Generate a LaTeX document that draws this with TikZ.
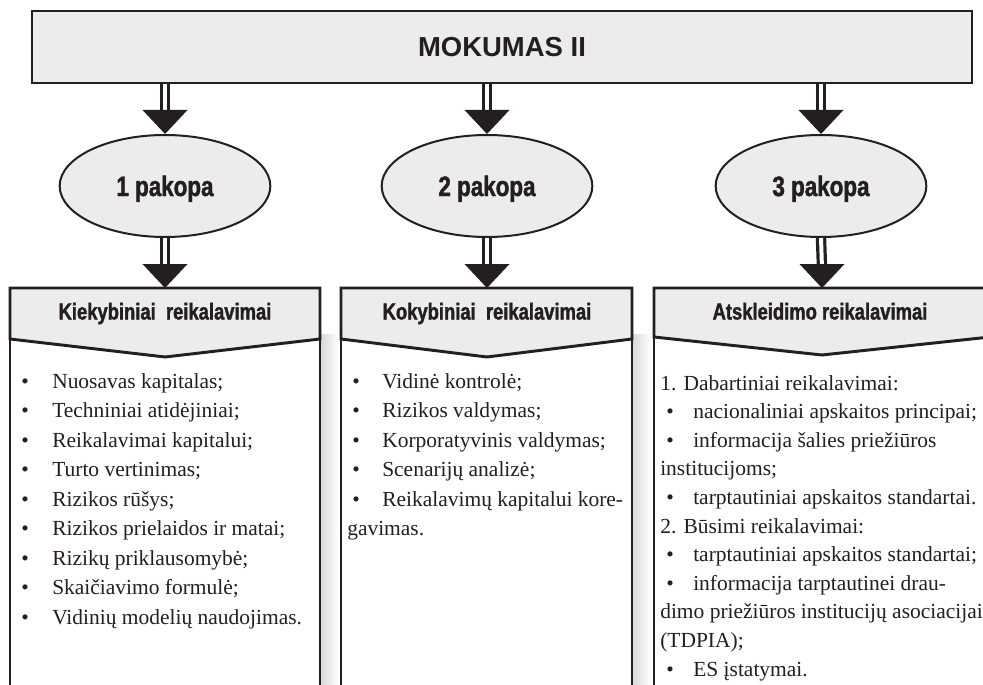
\documentclass[tikz,border=0pt]{standalone}
\usepackage{fontspec}
\setmainfont{Liberation Serif}
\newfontfamily\headsans{Liberation Sans}
\newfontfamily\condsans{Liberation Sans}[FakeStretch=0.8, BoldFeatures={FakeBold=1.5}]
\usetikzlibrary{shapes.geometric,calc}
\definecolor{ink}{HTML}{231F20}
\definecolor{panel}{HTML}{ECECEC}

% double-shafted arrow with a solid triangular head ending at #2
\newcommand\stagearrow[2]{%
  \draw[shaft] (#1) -- ($(#2)+(0,-20)$);
  \fill[ink] (#2) -- ++(-22.5,-24) -- ++(45,0) -- cycle;
}

\begin{document}
\begin{tikzpicture}[x=0.75pt, y=-0.75pt,
  every node/.style={text=ink},
  titlebox/.style={fill=panel, draw=ink, line width=2pt, minimum width=705pt,
    minimum height=54pt, inner sep=0pt, text height=14.8pt, text depth=0pt,
    font=\headsans\bfseries\fontsize{20.6}{24}\selectfont},
  stage/.style={ellipse, fill=panel, draw=ink, line width=1.5pt,
    minimum width=158pt, minimum height=76.5pt, inner sep=0pt,
    text height=15pt, text depth=0pt,
    font=\condsans\bfseries\fontsize{21}{24}\selectfont},
  hdrshape/.style={fill=panel, draw=ink, line width=2.2pt, line join=miter},
  hdrtext/.style={anchor=base, inner sep=0pt,
    font=\condsans\bfseries\fontsize{17.25}{20}\selectfont},
  bodyshape/.style={fill=white, draw=ink, line width=2.2pt},
  item/.style={anchor=base west, inner sep=0pt,
    font=\fontsize{16.1}{19}\selectfont},
  shaft/.style={draw=ink, double=white, double distance=3pt, line width=2.4pt},
]
\useasboundingbox (0,0) rectangle (983,685);
\clip (0,0) rectangle (983,685);

% ---- title and stages -------------------------------------------------
\node[titlebox] (title) at (502,47) {MOKUMAS II};

\node[stage] (e1) at (165,186) {1 pakopa};
\node[stage] (e2) at (487,186) {2 pakopa};
\node[stage] (e3) at (821,186) {3 pakopa};

\foreach \e in {e1,e2,e3}
  \stagearrow{title.south -| \e.north}{\e.north};

% ---- column bodies with soft shadow -------------------------------------
\shade[left color=black!15, right color=white] (321,334) rectangle (338,700);
\shade[left color=black!15, right color=white] (633,334) rectangle (651,700);

\path[bodyshape] (10,700) -- (10,336) -- (320,336) -- (320,700);
\path[bodyshape] (341,700) -- (341,336) -- (632,336) -- (632,700);
\path[bodyshape] (654,700) -- (654,336) -- (990,336) -- (990,700);

% ---- column headers ---------------------------------------------------
\path[hdrshape] (10,288) -- (320,288) -- (320,339) -- (165,357) -- (10,339) -- cycle;
\path[hdrshape] (341,288) -- (632,288) -- (632,339) -- (487,357) -- (341,339) -- cycle;
\path[hdrshape] (654,288) -- (990,288) -- (990,337) -- (822,355) -- (654,337) -- cycle;

\coordinate (h1top) at (165,288);
\coordinate (h2top) at (487,288);
\coordinate (h3top) at (822,288);

\node[hdrtext] (h1) at (165,319.5) {Kiekybiniai\ \ reikalavimai};
\node[hdrtext] (h2) at (487,319.5) {Kokybiniai\ \ reikalavimai};
\node[hdrtext] (h3) at (820,319.5) {Atskleidimo reikalavimai};

\stagearrow{e1.south}{h1top}
\stagearrow{e2.south}{h2top}
\stagearrow{e3.south}{h3top}

% ---- column 1: quantitative requirements --------------------------------
\foreach \txt [count=\i] in {{Nuosavas kapitalas;},{Techniniai atidėjiniai;},
    {Reikalavimai kapitalui;},{Turto vertinimas;},{Rizikos rūšys;},
    {Rizikos prielaidos ir matai;},{Rizikų priklausomybė;},
    {Skaičiavimo formulė;},{Vidinių modelių naudojimas.}} {
  \node[item] (kb\i) at (21,{388+29.5*(\i-1)}) {\textbullet};
  \node[item] (k\i) at (52,{388+29.5*(\i-1)}) {\txt};
}

% ---- column 2: qualitative requirements ---------------------------------
\foreach \txt [count=\i] in {{Vidinė kontrolė;},{Rizikos valdymas;},
    {Korporatyvinis valdymas;},{Scenarijų analizė;},
    {Reikalavimų kapitalui kore-}} {
  \node[item] (qb\i) at (352,{388+29.5*(\i-1)}) {\textbullet};
  \node[item] (q\i) at (382,{388+29.5*(\i-1)}) {\txt};
}
\node[item] (q6) at (347,{388+29.5*5}) {gavimas.};

% ---- column 3: disclosure requirements ----------------------------------
\foreach \i in {2,3,5,7,8,11}
  \node[item] (ab\i) at (666,{390+28.6*(\i-1)}) {\textbullet};
\foreach \xx/\txt [count=\i] in {660/{1. Dabartiniai reikalavimai:},
    693/{nacionaliniai apskaitos principai;},
    693/{informacija šalies priežiūros},
    660/{institucijoms;},
    693/{tarptautiniai apskaitos standartai.},
    660/{2. Būsimi reikalavimai:},
    693/{tarptautiniai apskaitos standartai;},
    693/{informacija tarptautinei drau-},
    660/{dimo priežiūros institucijų asociacijai},
    660/{(TDPIA);},
    693/{ES įstatymai.}}
  \node[item] (a\i) at (\xx,{390+28.6*(\i-1)}) {\txt};
\end{tikzpicture}
\end{document}
